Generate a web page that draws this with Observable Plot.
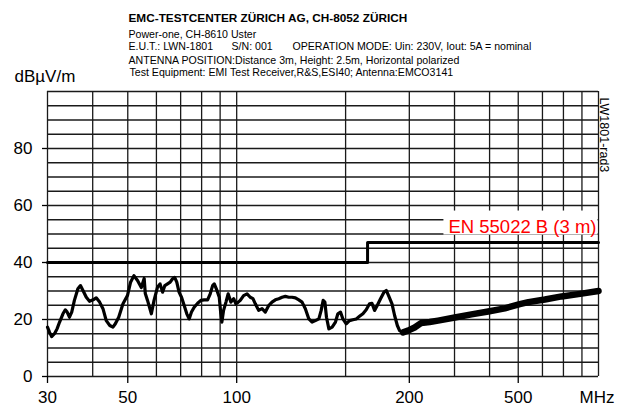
<!DOCTYPE html>
<html>
<head>
<meta charset="utf-8">
<script src="https://cdn.jsdelivr.net/npm/d3@7"></script>
<script src="https://cdn.jsdelivr.net/npm/@observablehq/plot@0.6"></script>
<style>
  html, body { margin: 0; padding: 0; background: #fff; }
  #chart svg { display: block; }
</style>
</head>
<body>
<div id="chart"></div>
<script>
// ---- header texts ----
const titleText = "EMC-TESTCENTER ZÜRICH AG, CH-8052 ZÜRICH";
const headerLine1 = "Power-one, CH-8610 Uster";
const headerLine2a = "E.U.T.: LWN-1801";
const headerLine2b = "S/N: 001";
const headerLine2c = "OPERATION MODE: Uin: 230V, Iout: 5A = nominal";
const headerLine3 = "ANTENNA POSITION:Distance 3m, Height: 2.5m, Horizontal polarized";
const headerLine4 = "Test Equipment: EMI Test Receiver,R&S,ESI40; Antenna:EMCO3141";
const yUnit = "dBµV/m";
const xUnit = "MHz";
const sideLabel = "LW1801-rad3";
const limitLabel = "EN 55022 B (3 m)";

// ---- axes ----
const yTicks = [0, 20, 40, 60, 80];
const yGrid = [0, 5, 10, 15, 20, 25, 30, 35, 40, 45, 50, 55, 60, 65, 70, 75, 80, 85, 90, 95, 100];
const xGrid = [30, 40, 50, 60, 70, 80, 90, 100, 200, 300, 400, 500, 600, 700, 800, 900, 1000];
// tick positions as drawn in the reference, and the labels printed there
const xTickValues = [30, 50, 100, 300, 600];
const xTickLabels = ["30", "50", "100", "200", "500"];

// ---- limit line EN 55022 class B, 3 m ----
const limitFreq = [30, 230, 230, 1000];
const limitLevel = [40, 40, 47, 47];

// ---- measured trace (MHz, dBµV/m) ----
const traceFreq = [30.0, 30.4, 30.8, 31.4, 31.9, 32.4, 33.1, 33.6, 34.0, 34.5,
  35.0, 35.6, 36.4, 37.0, 37.6, 38.4, 39.2, 40.1, 40.9, 41.8,
  42.7, 43.6, 44.6, 45.5, 46.2, 47.2, 48.5, 49.9, 50.9, 52.0,
  53.2, 54.5, 55.5, 55.9, 56.7, 58.1, 59.1, 60.4, 61.4, 62.4,
  63.3, 64.4, 65.5, 66.5, 67.4, 68.3, 69.3, 70.4, 71.6, 72.8,
  73.9, 75.0, 76.3, 78.0, 79.6, 81.3, 83.1, 84.5, 85.8, 86.7,
  88.2, 89.5, 90.4, 91.0, 92.0, 93.4, 94.7, 96.4, 98.1, 99.5,
  101.0, 102.3, 104.5, 106.8, 109.0, 110.9, 112.6, 115.0, 117.5, 120.0,
  122.6, 125.2, 127.9, 130.7, 133.5, 136.3, 139.3, 142.3, 145.3, 148.5,
  151.6, 154.8, 158.3, 161.6, 165.0, 168.7, 171.2, 173.4, 175.3, 177.1,
  179.8, 183.6, 187.5, 190.4, 193.6, 196.6, 200.8, 205.0, 209.5, 214.0,
  218.5, 223.3, 228.0, 232.9, 236.5, 240.5, 244.6, 249.8, 255.3, 259.1,
  262.9, 268.7, 273.2, 278.0, 282.0, 288.3];
const traceLevel = [17.3, 15.5, 14.0, 15.1, 16.8, 19.1, 22.0, 23.4, 22.6, 20.8,
  22.6, 26.7, 30.8, 31.9, 30.2, 27.8, 26.4, 26.9, 27.6, 26.1,
  23.8, 19.6, 17.9, 17.3, 18.5, 20.8, 25.5, 28.4, 33.1, 35.4,
  33.7, 31.2, 34.4, 29.1, 26.7, 22.0, 26.7, 31.3, 32.5, 29.6,
  31.9, 32.5, 33.1, 34.3, 34.8, 33.1, 29.6, 27.8, 24.9, 22.0,
  20.2, 22.6, 24.3, 25.7, 26.7, 26.9, 26.9, 29.0, 31.9, 32.5,
  30.2, 27.8, 22.0, 19.1, 23.2, 26.1, 29.0, 26.1, 27.3, 25.5,
  26.1, 26.7, 28.4, 29.0, 27.8, 27.3, 25.5, 23.2, 23.8, 22.6,
  24.9, 26.1, 26.9, 27.3, 27.8, 28.1, 27.8, 27.8, 27.6, 26.9,
  26.1, 23.8, 20.2, 19.1, 19.6, 20.2, 23.2, 26.7, 26.1, 20.8,
  16.7, 17.3, 19.1, 22.0, 22.6, 20.2, 18.5, 19.6, 19.9, 20.2,
  21.1, 22.0, 23.4, 25.5, 25.7, 23.2, 24.9, 27.3, 29.6, 30.2,
  28.4, 25.5, 21.4, 17.9, 16.1, 15.5];
// dense noisy part above ~290 MHz (centre of the band)
const bandFreq = [288.3, 297.5, 310.3, 323.9, 341.5, 360.3, 400.6, 445.5, 495.6, 551, 606, 640, 711, 791, 880, 1000];
const bandLevel = [15.5, 16.1, 17.2, 18.8, 19.1, 19.6, 20.7, 21.8, 22.8, 23.9, 25.4, 26.1, 27.0, 28.1, 28.9, 30.0];

const trace = traceFreq.map((f, i) => ({f, v: traceLevel[i]}));
const band = bandFreq.map((f, i) => ({f, v: bandLevel[i]}));
const limit = limitFreq.map((f, i) => ({f, v: limitLevel[i]}));
const xTicks = xTickValues.map((v, i) => ({v, label: xTickLabels[i]}));

const font = "'Liberation Sans', Arial, Helvetica, sans-serif";
const hdr = (text, dx, dy, extra = {}) =>
  Plot.text([text], {text: d => d, frameAnchor: "top-left", textAnchor: "start", dx, dy,
    fontSize: 10.6, fill: "#000", ...extra});

const chart = Plot.plot({
  width: 624,
  height: 408,
  marginLeft: 47,
  marginRight: 26,
  marginTop: 91,
  marginBottom: 32,
  style: {fontFamily: font, background: "#fff", color: "#000", overflow: "visible"},
  x: {type: "log", domain: [30, 1000], axis: null},
  y: {domain: [0, 100], axis: null},
  marks: [
    Plot.ruleY(yGrid, {stroke: "#1a1a1a", strokeWidth: 1.3}),
    Plot.ruleX(xGrid, {stroke: "#1a1a1a", strokeWidth: 1.3}),
    Plot.line(limit, {x: "f", y: "v", stroke: "#000", strokeWidth: 3}),
    Plot.line(trace, {x: "f", y: "v", stroke: "#000", strokeWidth: 3.2, strokeLinejoin: "round"}),
    Plot.line(band, {x: "f", y: "v", stroke: "#000", strokeWidth: 6.5, strokeLinejoin: "round"}),
    Plot.axisY({ticks: yTicks, tickSize: 5, tickPadding: 10, fontSize: 17, strokeWidth: 1.3, label: null}),
    // x tick marks hanging below the frame, with their labels
    Plot.ruleX(xTicks, {x: "v", y1: 0, y2: 0, stroke: "#000", strokeWidth: 1.3, insetBottom: -7}),
    Plot.text(xTicks, {x: "v", text: "label", frameAnchor: "bottom", lineAnchor: "top", dy: 14, fontSize: 17}),
    Plot.text([xUnit], {text: d => d, frameAnchor: "bottom-right", textAnchor: "end", lineAnchor: "top", dx: 16, dy: 14, fontSize: 17}),
    Plot.text([yUnit], {text: d => d, frameAnchor: "top-left", textAnchor: "start", dx: -33, dy: -22, fontSize: 17}),
    Plot.text([sideLabel], {text: d => d, frameAnchor: "top-right", textAnchor: "start", rotate: 90, dx: 10, dy: 6, fontSize: 12.5}),
    Plot.text([limitLabel], {text: d => d, x: [1000], y: [47], textAnchor: "end", lineAnchor: "bottom",
      dx: -2, dy: -10, fontSize: 18.5, fill: "#ff0000"}),
    hdr(titleText, 81, -78, {fontWeight: "bold", fontSize: 11.8}),
    hdr(headerLine1, 81, -61),
    hdr(headerLine2a, 81, -49),
    hdr(headerLine2b, 184, -49),
    hdr(headerLine2c, 245, -49),
    hdr(headerLine3, 81, -35),
    hdr(headerLine4, 82, -23)
  ]
});
document.getElementById("chart").append(chart);

// white box behind the limit label
const lab = d3.select(chart).selectAll("text").filter(function() { return this.textContent === limitLabel; }).node();
if (lab) {
  const b = lab.getBoundingClientRect();
  const s = chart.getBoundingClientRect();
  const g = lab.parentNode;
  const r = document.createElementNS("http://www.w3.org/2000/svg", "rect");
  r.setAttribute("x", b.left - s.left - 5);
  r.setAttribute("y", b.top - s.top - 5);
  r.setAttribute("width", b.width + 6);
  r.setAttribute("height", b.height + 3);
  r.setAttribute("fill", "#fff");
  g.parentNode.insertBefore(r, g);
}
</script>
</body>
</html>
